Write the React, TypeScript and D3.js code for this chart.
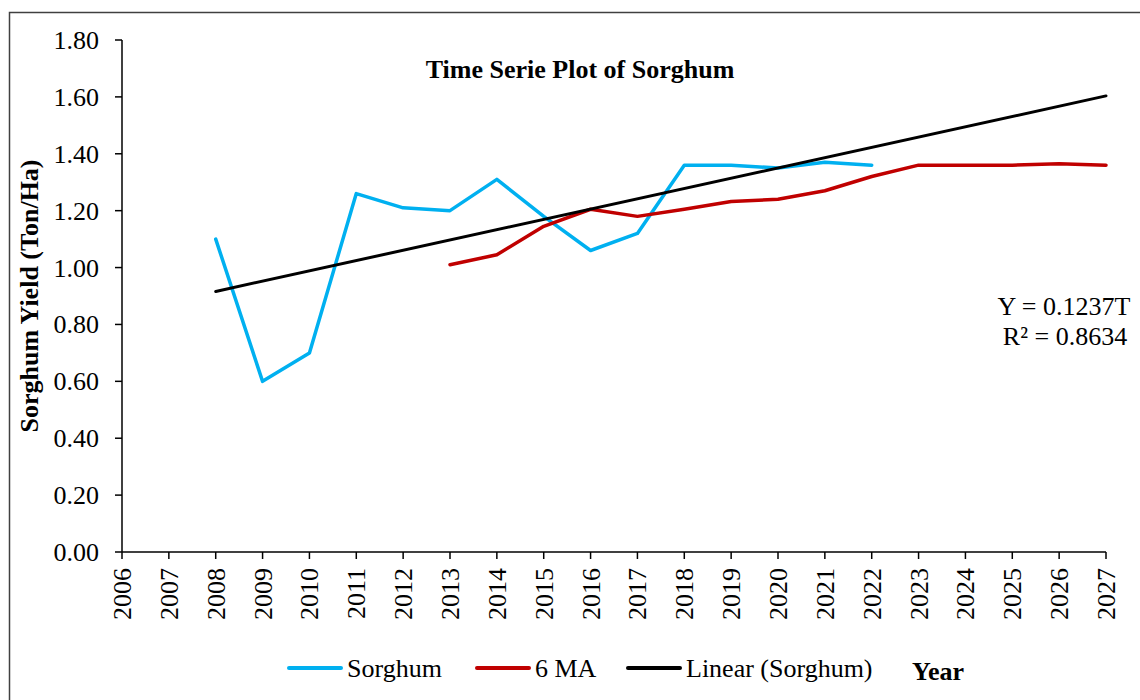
import React from "react";
import * as d3 from "d3";

const years = [2006, 2007, 2008, 2009, 2010, 2011, 2012, 2013, 2014, 2015, 2016, 2017, 2018, 2019, 2020, 2021, 2022, 2023, 2024, 2025, 2026, 2027];
const sorghumYears = [2008, 2009, 2010, 2011, 2012, 2013, 2014, 2015, 2016, 2017, 2018, 2019, 2020, 2021, 2022];
const sorghumValues = [1.10, 0.60, 0.70, 1.26, 1.21, 1.20, 1.31, 1.18, 1.06, 1.12, 1.36, 1.36, 1.35, 1.37, 1.36];
const maYears = [2013, 2014, 2015, 2016, 2017, 2018, 2019, 2020, 2021, 2022, 2023, 2024, 2025, 2026, 2027];
const maValues = [1.01, 1.045, 1.145, 1.205, 1.18, 1.205, 1.232, 1.24, 1.27, 1.32, 1.36, 1.36, 1.36, 1.365, 1.36];
const yTicks = [0, 0.2, 0.4, 0.6, 0.8, 1.0, 1.2, 1.4, 1.6, 1.8];

const title = "Time Serie Plot of Sorghum";
const yLabel = "Sorghum Yield (Ton/Ha)";
const xLabel = "Year";
const eqLine1 = "Y = 0.1237T";
const eqLine2 = "R² = 0.8634";

const FONT = "'Liberation Serif', 'Times New Roman', serif";

export default function App() {
  const left = 122, right = 1106, top = 40, bottom = 552;
  const x = d3.scaleLinear().domain([2006, 2027]).range([left, right]);
  const y = d3.scaleLinear().domain([0, 1.8]).range([bottom, top]);

  // least-squares trend on Sorghum data, extended to 2027
  const mx = d3.mean(sorghumYears) as number;
  const my = d3.mean(sorghumValues) as number;
  let num = 0, den = 0;
  sorghumYears.forEach((t, i) => {
    num += (t - mx) * (sorghumValues[i] - my);
    den += (t - mx) * (t - mx);
  });
  const slope = num / den;
  const intercept = my - slope * mx;
  const trend: [number, number][] = [2008, 2027].map((t) => [t, intercept + slope * t]);

  const line = d3.line<[number, number]>().x((d) => x(d[0])).y((d) => y(d[1]));
  const sorghumPts: [number, number][] = sorghumYears.map((t, i) => [t, sorghumValues[i]]);
  const maPts: [number, number][] = maYears.map((t, i) => [t, maValues[i]]);

  const fs = 26;
  const legendItems = [
    { label: "Sorghum", color: "#00B0F0", x0: 289 },
    { label: "6 MA", color: "#C00000", x0: 477 },
    { label: "Linear (Sorghum)", color: "#000000", x0: 628 },
  ];

  return (
    <svg width={1140} height={700} style={{ position: "absolute", left: 0, top: 0, background: "#fff" }} fontFamily={FONT}>
      <rect x={0} y={0} width={1140} height={700} fill="#fff" />
      <rect x={9.5} y={12.5} width={1160} height={720} fill="none" stroke="#404040" strokeWidth={1.5} />

      <text x={580} y={78} textAnchor="middle" fontSize={fs} fontWeight="bold">{title}</text>

      {/* Y axis */}
      <line x1={left} x2={left} y1={top} y2={bottom} stroke="#000" strokeWidth={1.5} />
      {yTicks.map((v) => (
        <g key={v}>
          <line x1={left - 7} x2={left} y1={y(v)} y2={y(v)} stroke="#000" strokeWidth={1.5} />
          <text x={99} y={y(v) + 9} textAnchor="end" fontSize={fs}>{v.toFixed(2)}</text>
        </g>
      ))}
      <text transform={`translate(38,296) rotate(-90)`} textAnchor="middle" fontSize={fs} fontWeight="bold">{yLabel}</text>

      {/* X axis */}
      <line x1={left} x2={right} y1={bottom} y2={bottom} stroke="#000" strokeWidth={1.5} />
      {years.map((t) => (
        <g key={t}>
          <line x1={x(t)} x2={x(t)} y1={bottom} y2={bottom + 7} stroke="#000" strokeWidth={1.5} />
          <text transform={`translate(${x(t) + 9},${bottom + 16}) rotate(-90)`} textAnchor="end" fontSize={fs}>{t}</text>
        </g>
      ))}

      {/* Series */}
      <path d={line(sorghumPts) || ""} fill="none" stroke="#00B0F0" strokeWidth={3.5} strokeLinejoin="round" strokeLinecap="round" />
      <path d={line(maPts) || ""} fill="none" stroke="#C00000" strokeWidth={3.5} strokeLinejoin="round" strokeLinecap="round" />
      <path d={line(trend) || ""} fill="none" stroke="#000" strokeWidth={3} strokeLinecap="round" />

      {/* Equation */}
      <text x={1064} y={315} textAnchor="middle" fontSize={fs}>{eqLine1}</text>
      <text x={1065} y={345} textAnchor="middle" fontSize={fs}>{eqLine2}</text>

      {/* Legend */}
      {legendItems.map((it) => (
        <g key={it.label}>
          <line x1={it.x0} x2={it.x0 + 52} y1={668} y2={668} stroke={it.color} strokeWidth={4} strokeLinecap="round" />
          <text x={it.x0 + 58} y={677} fontSize={fs}>{it.label}</text>
        </g>
      ))}
      <text x={912} y={680} fontSize={fs} fontWeight="bold">{xLabel}</text>
    </svg>
  );
}
